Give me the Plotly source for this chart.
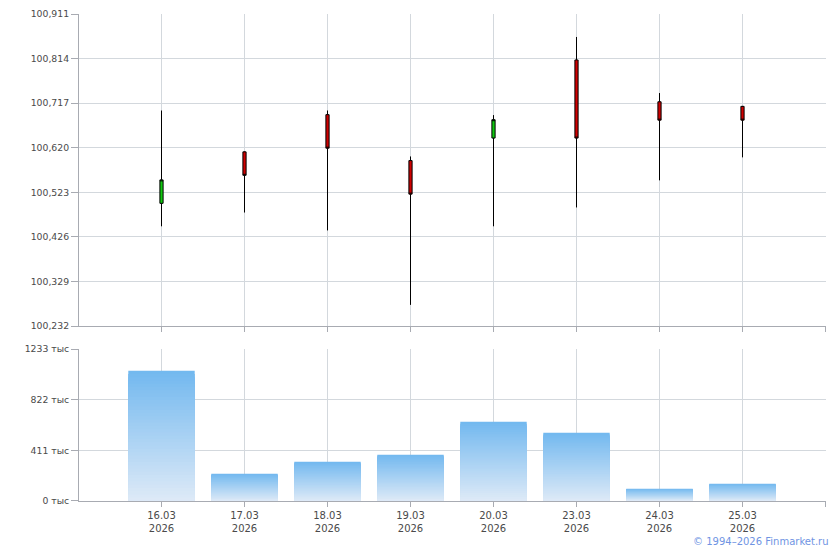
import plotly.graph_objects as go

# ---- data ----
dates = ["16.03<br>2026", "17.03<br>2026", "18.03<br>2026", "19.03<br>2026",
         "20.03<br>2026", "23.03<br>2026", "24.03<br>2026", "25.03<br>2026"]
opens = [100.499, 100.611, 100.692, 100.592, 100.641, 100.811, 100.720, 100.710]
highs = [100.701, 100.612, 100.701, 100.601, 100.691, 100.861, 100.739, 100.711]
lows = [100.449, 100.479, 100.440, 100.278, 100.449, 100.490, 100.549, 100.599]
closes = [100.550, 100.560, 100.619, 100.519, 100.681, 100.641, 100.680, 100.680]
volumes_k = [1057, 221, 319, 376, 643, 554, 100, 140]  # thousands

price_ticks = [100.232, 100.329, 100.426, 100.523, 100.620, 100.717, 100.814, 100.911]
price_labels = ["100,232", "100,329", "100,426", "100,523", "100,620", "100,717", "100,814", "100,911"]
vol_ticks = [0, 411, 822, 1233]
vol_labels = ["0 тыс", "411 тыс", "822 тыс", "1233 тыс"]

xs = list(range(len(dates)))

GRID = "#d3d8dd"
AXIS = "#a8abb2"
TXT = "#4a4a4a"
FONT = "DejaVu Sans"

fig = go.Figure()

fig.add_trace(go.Candlestick(
    x=xs, open=opens, high=highs, low=lows, close=closes,
    xaxis="x", yaxis="y",
    increasing=dict(line=dict(color="#000000", width=1), fillcolor="#10c810"),
    decreasing=dict(line=dict(color="#000000", width=1), fillcolor="#d00000"),
    whiskerwidth=0,
    showlegend=False,
))

# gradient bars: overlaid layers, each relative to its bar height
top_c = (0x72, 0xb8, 0xef)
bot_c = (0xde, 0xea, 0xf7)
K = 40
for k in range(K):
    t = (k + 0.5) / K
    c = tuple(round(top_c[i] + (bot_c[i] - top_c[i]) * t) for i in range(3))
    frac = 1 - k / K
    fig.add_trace(go.Bar(
        x=xs, y=[v * frac for v in volumes_k], width=0.8,
        xaxis="x2", yaxis="y2",
        marker=dict(color="rgb(%d,%d,%d)" % c, line=dict(width=0)),
        showlegend=False, hoverinfo="skip" if k else None,
    ))

xcommon = dict(
    range=[-0.994, 8.006], tickmode="array", tickvals=xs,
    showgrid=True, gridcolor=GRID, gridwidth=1,
    showline=True, linecolor=AXIS, linewidth=1,
    ticks="outside", ticklen=5, tickcolor=AXIS,
    minor=dict(tickmode="array", tickvals=[-1, 8], ticks="outside", ticklen=5,
               tickcolor=AXIS, showgrid=True, gridcolor=GRID),
    zeroline=False, fixedrange=True, automargin=False,
    tickfont=dict(family=FONT, size=10, color=TXT),
)
ycommon = dict(
    tickmode="array", showgrid=True, gridcolor=GRID, showline=True,
    linecolor=AXIS, ticks="outside", ticklen=7, tickcolor=AXIS,
    zeroline=False, fixedrange=True, automargin=False,
    tickfont=dict(family=FONT, size=9.3, color=TXT),
)

fig.update_layout(
    width=840, height=550,
    margin=dict(l=79, r=14, t=14, b=49),
    paper_bgcolor="white", plot_bgcolor="white",
    font=dict(family=FONT, size=10, color=TXT),
    barmode="overlay", bargap=0.2, boxgap=0.945,
    showlegend=False,
    xaxis=dict(**xcommon, anchor="y", showticklabels=False,
               rangeslider=dict(visible=False)),
    yaxis=dict(**ycommon, domain=[0.3593, 1], range=[100.232, 100.911], anchor="x",
               tickvals=price_ticks, ticktext=price_labels),
    xaxis2=dict(**xcommon, anchor="y2", ticktext=dates),
    yaxis2=dict(**ycommon, domain=[0, 0.3121], range=[0, 1233], anchor="x2",
                tickvals=vol_ticks, ticktext=vol_labels),
    annotations=[dict(
        text="© 1994–2026 Finmarket.ru", xref="paper", yref="paper",
        x=1, xshift=5, y=-0.084, xanchor="right", yanchor="middle",
        showarrow=False, font=dict(family=FONT, size=10, color="#6f94e3"),
    )],
)

fig.write_html(
    "out.html",
    config={"displayModeBar": False},
    post_script="document.body.style.margin='0px';document.body.style.padding='0px';"
                "document.body.style.overflow='hidden';",
)
